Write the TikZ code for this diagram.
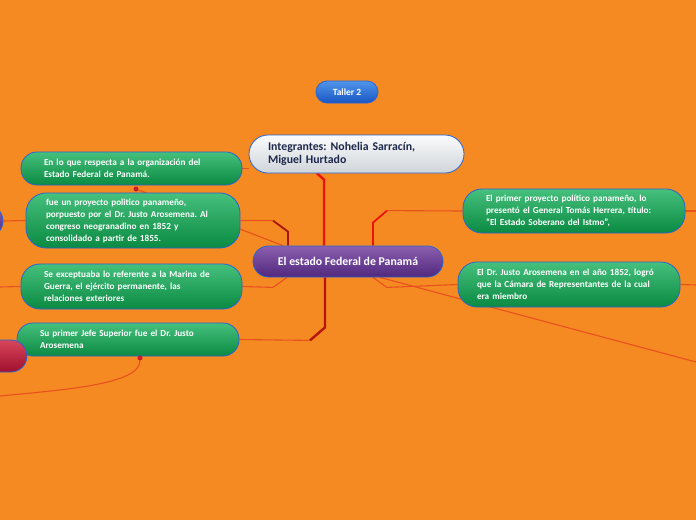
\documentclass[tikz,border=0pt]{standalone}
\usepackage{fontspec}
\setmainfont{Carlito}
\frenchspacing
\usetikzlibrary{positioning}
\pgfdeclarelayer{back}
\pgfdeclarelayer{bg}
\pgfsetlayers{back,bg,main}
\definecolor{bgorange}{RGB}{245,138,34}
\definecolor{greentop}{RGB}{70,192,125}
\definecolor{greenbot}{RGB}{10,138,66}
\definecolor{edgeblue}{RGB}{40,100,210}
\definecolor{purptop}{RGB}{140,95,175}
\definecolor{purpbot}{RGB}{80,40,125}
\definecolor{bluetop}{RGB}{80,150,235}
\definecolor{bluebot}{RGB}{25,85,195}
\definecolor{greytop}{RGB}{250,251,252}
\definecolor{greybot}{RGB}{208,213,218}
\definecolor{navy}{RGB}{30,40,75}
\definecolor{redtop}{RGB}{215,70,90}
\definecolor{redbot}{RGB}{160,15,45}
\definecolor{linkorange}{RGB}{232,80,30}
\definecolor{trunkred}{RGB}{235,20,10}
\definecolor{darkred}{RGB}{170,20,10}
\definecolor{dotred}{RGB}{200,25,45}
\begin{document}
\begin{tikzpicture}[x=1pt, y=-1pt,
  every node/.style={font=\bfseries},
  pill/.style={draw=edgeblue, line width=0.8pt, rounded corners=16pt, top color=greentop, bottom color=greenbot, text=white, align=left, inner ysep=0pt, font=\bfseries\fontsize{9.2}{12}\selectfont},
  topic/.style={draw=edgeblue, line width=0.8pt, top color=purptop, bottom color=purpbot, text=white, inner sep=0pt},
  link/.style={draw=linkorange, line width=1.1pt},
  trunk/.style={draw=trunkred, line width=2.4pt},
  dot/.style={circle, fill=dotred, inner sep=0pt, minimum size=5pt},
]
\useasboundingbox (0,0) rectangle (696,520);
\clip (0,0) rectangle (696,520);
\begin{pgfonlayer}{back}
\fill[bgorange] (0,0) rectangle (696,520);
\end{pgfonlayer}

\node[draw=edgeblue, line width=0.8pt, rounded corners=11pt, top color=bluetop, bottom color=bluebot, text=white, minimum width=62pt, minimum height=22pt, inner sep=0pt, font=\bfseries\fontsize{9.5}{11}\selectfont] (taller) at (347,92) {Taller 2};
\node[draw=edgeblue, line width=0.8pt, rounded corners=19pt, top color=greytop, bottom color=greybot, text=navy, align=left, text width=177pt, inner xsep=19pt, inner ysep=0pt, minimum height=38pt, font=\bfseries\fontsize{11.8}{13.5}\selectfont] (integ) at (356.5,154) {Integrantes: Nohelia Sarracín,\\Miguel Hurtado};
\node[topic, rounded corners=15.5pt, minimum width=190pt, minimum height=31pt, font=\bfseries\fontsize{11.8}{13}\selectfont] (hub) at (348,261.5) {El estado Federal de Panamá};

\node[pill, text width=175pt, inner xsep=23pt, minimum height=33pt] (l1) at (131.5,168.5) {En lo que respecta a la organización del\\Estado Federal de Panamá.};
\node[pill, text width=174pt, inner xsep=20pt, minimum height=55pt, rounded corners=20pt] (l2) at (133,220.5) {fue un proyecto politico panameño,\\porpuesto por el Dr. Justo Arosemena. Al\\congreso neogranadino en 1852 y\\consolidado a partir de 1855.};
\node[pill, text width=175pt, inner xsep=23pt, minimum height=45pt, rounded corners=19pt] (l3) at (131.5,286.5) {Se exceptuaba lo referente a la Marina de\\Guerra, el ejército permanente, las\\relaciones exteriores};
\node[pill, text width=176pt, inner xsep=23pt, minimum height=33pt] (l4) at (128,339.5) {Su primer Jefe Superior fue el Dr. Justo\\Arosemena};
\node[pill, text width=176pt, inner xsep=23pt, minimum height=44pt, rounded corners=19pt] (r1) at (574,211) {El primer proyecto político panameño, lo\\presentó el General Tomás Herrera, título:\\``El Estado Soberano del Istmo'',};
\node[pill, text width=184pt, inner xsep=19pt, minimum height=45pt, rounded corners=19pt] (r2) at (569,284.5) {El Dr. Justo Arosemena en el año 1852, logró\\que la Cámara de Representantes de la cual\\era miembro};

\node[topic, rounded corners=16pt, minimum width=126pt, minimum height=32pt] (side) at (-60,221) {};
\node[draw=edgeblue, line width=0.8pt, rounded corners=16pt, top color=redtop, bottom color=redbot, minimum width=134pt, minimum height=32pt] (redn) at (-40,356) {};

\node[dot] (d1) at (136,189) {};
\node[dot] (d4) at (140,358) {};
\coordinate (offl3) at (0,287);
\coordinate (offl4) at (0,396);
\coordinate (offr1) at (696,211);
\coordinate (offr2) at (696,285);
\coordinate (offdiag) at (696,362);

\begin{pgfonlayer}{bg}
\draw[trunk] ([xshift=-24pt]hub.north) -- ++(0,-66) -- ([xshift=-39.5pt]integ.south);
\draw[trunk, draw=darkred!80!trunkred] ([xshift=-23pt]hub.south) -- ++(0,50) -- ++(-15,13) coordinate (k4);
\draw[link] (k4) -- (l4.east);
\draw[link, draw=darkred, line width=1.8pt] ([xshift=-60pt]hub.north) -- ++(0,-14) -- ++(-15,-11) coordinate (k2);
\draw[link] (k2) -- (l2.east);
\draw[link] ([xshift=-61pt]hub.south) -- ++(-14,10) -- (l3.east);
\draw[link] (l1.east) -- (l1.east -| integ.west);
\draw[link] (d1) -- ([xshift=-65pt]hub.north);
\draw[link] (l2.west) -- (side.east);
\draw[link] (l3.west) -- (offl3);
\draw[link] (d4) .. controls (140,385) and (60,390) .. (offl4);
\draw[trunk, line width=1.8pt] ([xshift=25pt]hub.north) -- ++(0,-23) -- ++(14,-12) coordinate (k1);
\draw[link] (k1) -- (r1.west);
\draw[link] ([xshift=25pt]hub.south) -- ++(14,10) -- (r2.west);
\draw[link] (r1.east) -- (offr1);
\draw[link] (r2.east) -- (offr2);
\draw[link] ([xshift=32pt]hub.south) -- (offdiag);
\end{pgfonlayer}
\end{tikzpicture}
\end{document}
